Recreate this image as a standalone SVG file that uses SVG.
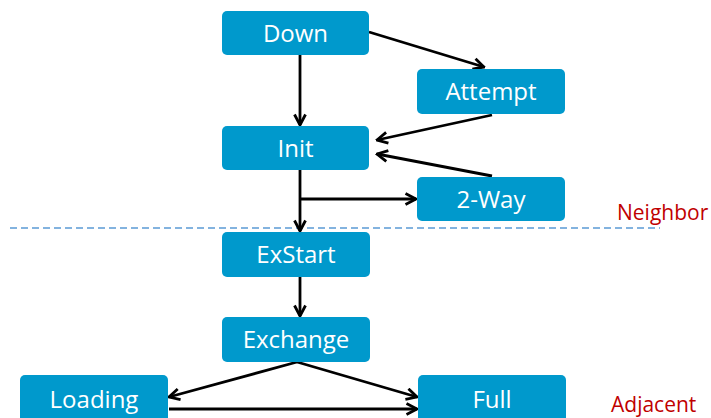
<svg xmlns="http://www.w3.org/2000/svg" width="711" height="418" viewBox="0 0 711 418">
<defs>
<style>
.box{fill:#0099CC;}
.lbl{fill:#ffffff;font-family:"Open Sans","Noto Sans","Liberation Sans",sans-serif;font-size:24px;text-anchor:middle;}
.red{fill:#C00000;font-family:"Open Sans","Noto Sans","Liberation Sans",sans-serif;font-size:21px;}
.edge{stroke:#000;stroke-width:2.8;fill:none;marker-end:url(#arr);}
</style>
<marker id="arr" markerUnits="userSpaceOnUse" viewBox="0 0 14 14" refX="12.5" refY="7" markerWidth="14" markerHeight="14" orient="auto">
<path d="M2,1.5 L12.5,7 L2,12.5" fill="none" stroke="#000" stroke-width="2.8"/>
</marker>
</defs>
<rect width="711" height="418" fill="#ffffff"/>
<line x1="10" y1="228" x2="660" y2="228" stroke="#5B9BD5" stroke-width="1.5" stroke-dasharray="7,4"/>
<text class="red" x="617" y="220">Neighbor</text>
<text class="red" x="611" y="412">Adjacent</text>
<g id="connectors">
<path class="edge" d="M369,32 L484,67"/>
<path class="edge" d="M300,55 L300,125"/>
<path class="edge" d="M492,115 L377,140"/>
<path class="edge" d="M492,176 L377,154"/>
<path class="edge" d="M300,170 L300,231"/>
<path class="edge" d="M300,199 L416,199"/>
<path class="edge" d="M300,277 L300,316"/>
<path class="edge" d="M297,362 L169,397"/>
<path class="edge" d="M297,362 L417,397"/>
<path class="edge" d="M169,409 L417,409"/>
</g>
<g id="down"><rect class="box" x="222" y="11" width="147" height="44" rx="5"/><text class="lbl" x="295.5" y="42">Down</text></g>
<g id="attempt"><rect class="box" x="417" y="69" width="148" height="45" rx="5"/><text class="lbl" x="491" y="100">Attempt</text></g>
<g id="init"><rect class="box" x="222" y="126" width="147" height="44" rx="5"/><text class="lbl" x="295.5" y="157">Init</text></g>
<g id="twoway"><rect class="box" x="417" y="177" width="148" height="44" rx="5"/><text class="lbl" x="491" y="208">2-Way</text></g>
<g id="exstart"><rect class="box" x="222" y="232" width="148" height="45" rx="5"/><text class="lbl" x="296" y="263">ExStart</text></g>
<g id="exchange"><rect class="box" x="222" y="317" width="148" height="45" rx="5"/><text class="lbl" x="296" y="348">Exchange</text></g>
<g id="loading"><rect class="box" x="20" y="375" width="148" height="50" rx="5"/><text class="lbl" x="94" y="408">Loading</text></g>
<g id="full"><rect class="box" x="418" y="375" width="148" height="50" rx="5"/><text class="lbl" x="492" y="408">Full</text></g>
</svg>
